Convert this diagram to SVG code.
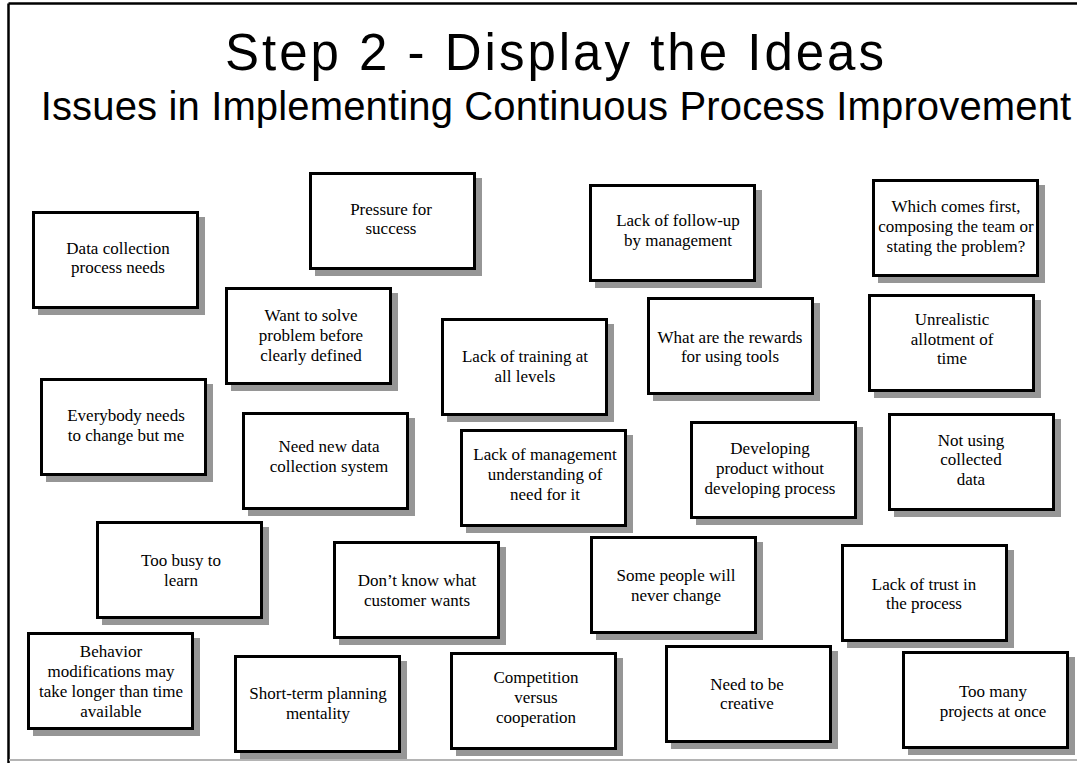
<svg xmlns="http://www.w3.org/2000/svg" width="1077" height="763" viewBox="0 0 1077 763">
<style>
.frame{fill:none;stroke:#000;stroke-width:2.5}
.sh{fill:#969696}
.box{fill:#fff;stroke:#000;stroke-width:3}
.lbl{font-family:"Liberation Serif","Times New Roman",serif;font-size:17px;text-anchor:middle;fill:#000}
.title{font-family:"Liberation Sans",Arial,sans-serif;font-size:51px;text-anchor:middle;fill:#000;letter-spacing:3px}
.sub{font-family:"Liberation Sans",Arial,sans-serif;font-size:40px;text-anchor:middle;fill:#000;letter-spacing:0.15px}
</style>
<defs>
<g id="card"><rect class="sh" x="6" y="6" width="167" height="98"/><rect class="box" x="1.5" y="1.5" width="164" height="95"/></g>
</defs>
<rect x="0" y="0" width="1077" height="763" fill="#fff"/>
<g id="frame">
<line class="frame" x1="8.5" y1="3.5" x2="1077" y2="3.5"/>
<line class="frame" x1="8.5" y1="3.5" x2="8.5" y2="763"/>
<line x1="9" y1="760" x2="1077" y2="760" stroke="#b4b4b4" stroke-width="2"/>
</g>
<g id="titles">
<text class="title" x="556" y="70">Step 2 - Display the Ideas</text>
<text class="sub" x="556" y="120">Issues in Implementing Continuous Process Improvement</text>
</g>
<g id="connectors"/>
<g id="n1"><use href="#card" x="32" y="211"/><text class="lbl" x="118" y="254">Data collection</text><text class="lbl" x="118" y="273">process needs</text></g>
<g id="n2"><use href="#card" x="309" y="172"/><text class="lbl" x="391" y="215">Pressure for</text><text class="lbl" x="391" y="234">success</text></g>
<g id="n3"><use href="#card" x="225" y="287"/><text class="lbl" x="311" y="321">Want to solve</text><text class="lbl" x="311" y="341">problem before</text><text class="lbl" x="311" y="361">clearly defined</text></g>
<g id="n4"><use href="#card" x="40" y="378"/><text class="lbl" x="126" y="421">Everybody needs</text><text class="lbl" x="126" y="441">to change but me</text></g>
<g id="n5"><use href="#card" x="242" y="412"/><text class="lbl" x="329" y="452">Need new data</text><text class="lbl" x="329" y="472">collection system</text></g>
<g id="n6"><use href="#card" x="96" y="521"/><text class="lbl" x="181" y="566">Too busy to</text><text class="lbl" x="181" y="586">learn</text></g>
<g id="n7"><use href="#card" x="333" y="541"/><text class="lbl" x="417" y="586">Don’t know what</text><text class="lbl" x="417" y="606">customer wants</text></g>
<g id="n8"><use href="#card" x="27" y="632"/><text class="lbl" x="111" y="657">Behavior</text><text class="lbl" x="111" y="677">modifications may</text><text class="lbl" x="111" y="697">take longer than time</text><text class="lbl" x="111" y="717">available</text></g>
<g id="n9"><use href="#card" x="234" y="655"/><text class="lbl" x="318" y="699">Short-term planning</text><text class="lbl" x="318" y="719">mentality</text></g>
<g id="n10"><use href="#card" x="441" y="318"/><text class="lbl" x="525" y="362">Lack of training at</text><text class="lbl" x="525" y="382">all levels</text></g>
<g id="n11"><use href="#card" x="460" y="429"/><text class="lbl" x="545" y="460">Lack of management</text><text class="lbl" x="545" y="480">understanding of</text><text class="lbl" x="545" y="500">need for it</text></g>
<g id="n12"><use href="#card" x="450" y="652"/><text class="lbl" x="536" y="683">Competition</text><text class="lbl" x="536" y="703">versus</text><text class="lbl" x="536" y="723">cooperation</text></g>
<g id="n13"><use href="#card" x="589" y="184"/><text class="lbl" x="678" y="226">Lack of follow-up</text><text class="lbl" x="678" y="246">by management</text></g>
<g id="n14"><use href="#card" x="872" y="179"/><text class="lbl" x="956" y="212">Which comes first,</text><text class="lbl" x="956" y="232">composing the team or</text><text class="lbl" x="956" y="252">stating the problem?</text></g>
<g id="n15"><use href="#card" x="647" y="297"/><text class="lbl" x="730" y="343">What are the rewards</text><text class="lbl" x="730" y="362">for using tools</text></g>
<g id="n16"><use href="#card" x="868" y="294"/><text class="lbl" x="952" y="325">Unrealistic</text><text class="lbl" x="952" y="345">allotment of</text><text class="lbl" x="952" y="364">time</text></g>
<g id="n17"><use href="#card" x="690" y="421"/><text class="lbl" x="770" y="454">Developing</text><text class="lbl" x="770" y="474">product without</text><text class="lbl" x="770" y="494">developing process</text></g>
<g id="n18"><use href="#card" x="888" y="413"/><text class="lbl" x="971" y="446">Not using</text><text class="lbl" x="971" y="465">collected</text><text class="lbl" x="971" y="485">data</text></g>
<g id="n19"><use href="#card" x="590" y="536"/><text class="lbl" x="676" y="581">Some people will</text><text class="lbl" x="676" y="601">never change</text></g>
<g id="n20"><use href="#card" x="841" y="544"/><text class="lbl" x="924" y="590">Lack of trust in</text><text class="lbl" x="924" y="609">the process</text></g>
<g id="n21"><use href="#card" x="665" y="645"/><text class="lbl" x="747" y="690">Need to be</text><text class="lbl" x="747" y="709">creative</text></g>
<g id="n22"><use href="#card" x="902" y="651"/><text class="lbl" x="993" y="697">Too many</text><text class="lbl" x="993" y="717">projects at once</text></g>
</svg>
